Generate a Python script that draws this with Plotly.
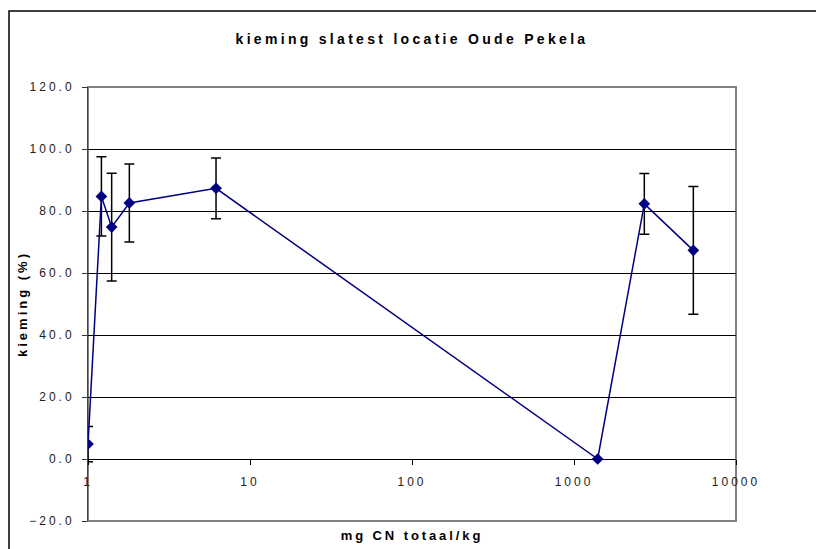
import plotly.graph_objects as go

# ---- data ----
conc_mg_per_kg = [1.0, 1.21, 1.40, 1.80, 6.17, 1400, 2717, 5454]
kieming_pct = [4.8, 84.7, 74.8, 82.6, 87.3, 0.0, 82.3, 67.3]
kieming_err = [5.7, 12.8, 17.4, 12.6, 9.8, 0.0, 9.8, 20.6]

x_tick_vals = [1, 10, 100, 1000, 10000]
x_tick_text = ["1", "10", "100", "1000", "10000"]
y_tick_vals = [-20, 0, 20, 40, 60, 80, 100, 120]

title_text = "kieming slatest locatie Oude Pekela"
x_title = "mg CN totaal/kg"
y_title = "kieming (%)"

FONT = "Liberation Sans, Arial, sans-serif"
NAVY = "#000080"

# layout geometry (pixels)
W, H = 816, 549
L, R, T, B = 88, 80, 87, 28
plot_w = W - L - R
plot_h = H - T - B
zero_pos = (0 - (-20)) / 140.0  # paper fraction where y=0 sits

fig = go.Figure()
fig.add_trace(go.Scatter(
    x=conc_mg_per_kg, y=kieming_pct,
    mode="lines+markers",
    line=dict(color=NAVY, width=1.5),
    marker=dict(symbol="diamond", size=9, color=NAVY),
    error_y=dict(type="data", array=kieming_err, visible=True,
                 color="black", thickness=1.5, width=5),
    showlegend=False,
))

fig.update_layout(
    template="none",
    width=W, height=H,
    margin=dict(l=L, r=R, t=T, b=B, autoexpand=False),
    paper_bgcolor="white", plot_bgcolor="white",
    font=dict(family=FONT, size=12, color="#222"),
    title=dict(text=f"<b>{title_text}</b>", x=0.5, xanchor="center",
               xref="paper",
               y=1 - 39 / H, yanchor="middle",
               font=dict(family=FONT, size=14, color="black")),
    xaxis=dict(
        type="log", range=[0, 4], automargin=False,
        anchor="free", position=zero_pos,
        tickvals=x_tick_vals, ticktext=x_tick_text,
        ticks="outside", ticklen=5, tickcolor="black", tickwidth=1,
        ticklabelstandoff=7,
        showline=True, linecolor="black", linewidth=1,
        showgrid=False, zeroline=False,
        tickfont=dict(size=12, color="#222"),
        title=dict(text=f"<b>{x_title}</b>", standoff=42,
                   font=dict(size=13, color="black")),
    ),
    yaxis=dict(
        range=[-20, 120], tickvals=y_tick_vals, tickformat=".1f",
        automargin=False,
        ticks="outside", ticklen=5, tickcolor="#333",
        ticklabelstandoff=5,
        showline=True, linecolor="#444", linewidth=1,
        showgrid=True, gridcolor="black", gridwidth=1,
        zeroline=False,
        tickfont=dict(size=12, color="#222"),
        title=dict(text=f"<b>{y_title}</b>", standoff=13,
                   font=dict(size=13, color="black")),
    ),
)

# plot area border (gray) and outer chart frame
fig.add_shape(type="rect", xref="paper", yref="paper", x0=0, x1=1, y0=0, y1=1,
              line=dict(color="#808080", width=2), layer="below")
fig.add_shape(type="rect", xref="paper", yref="paper",
              x0=(9 - L) / plot_w, x1=(822 - L) / plot_w,
              y0=(H - B - 556) / plot_h, y1=(H - B - 11) / plot_h,
              line=dict(color="black", width=1.5))

# remove the page margin, and mimic the wide letter spacing of the original
post_js = """
document.body.style.margin = '0';
var gd = document.getElementById('{plot_id}');
function ls(sel, v){ gd.querySelectorAll(sel).forEach(function(e){ e.style.letterSpacing = v; }); }
ls('.gtitle', '3.3px'); ls('.xtitle', '2.9px'); ls('.ytitle', '3px');
ls('.xtick text', '3px'); ls('.ytick text', '3px');
"""

fig.write_html("out.html", post_script=post_js,
               config={"displayModeBar": False})
